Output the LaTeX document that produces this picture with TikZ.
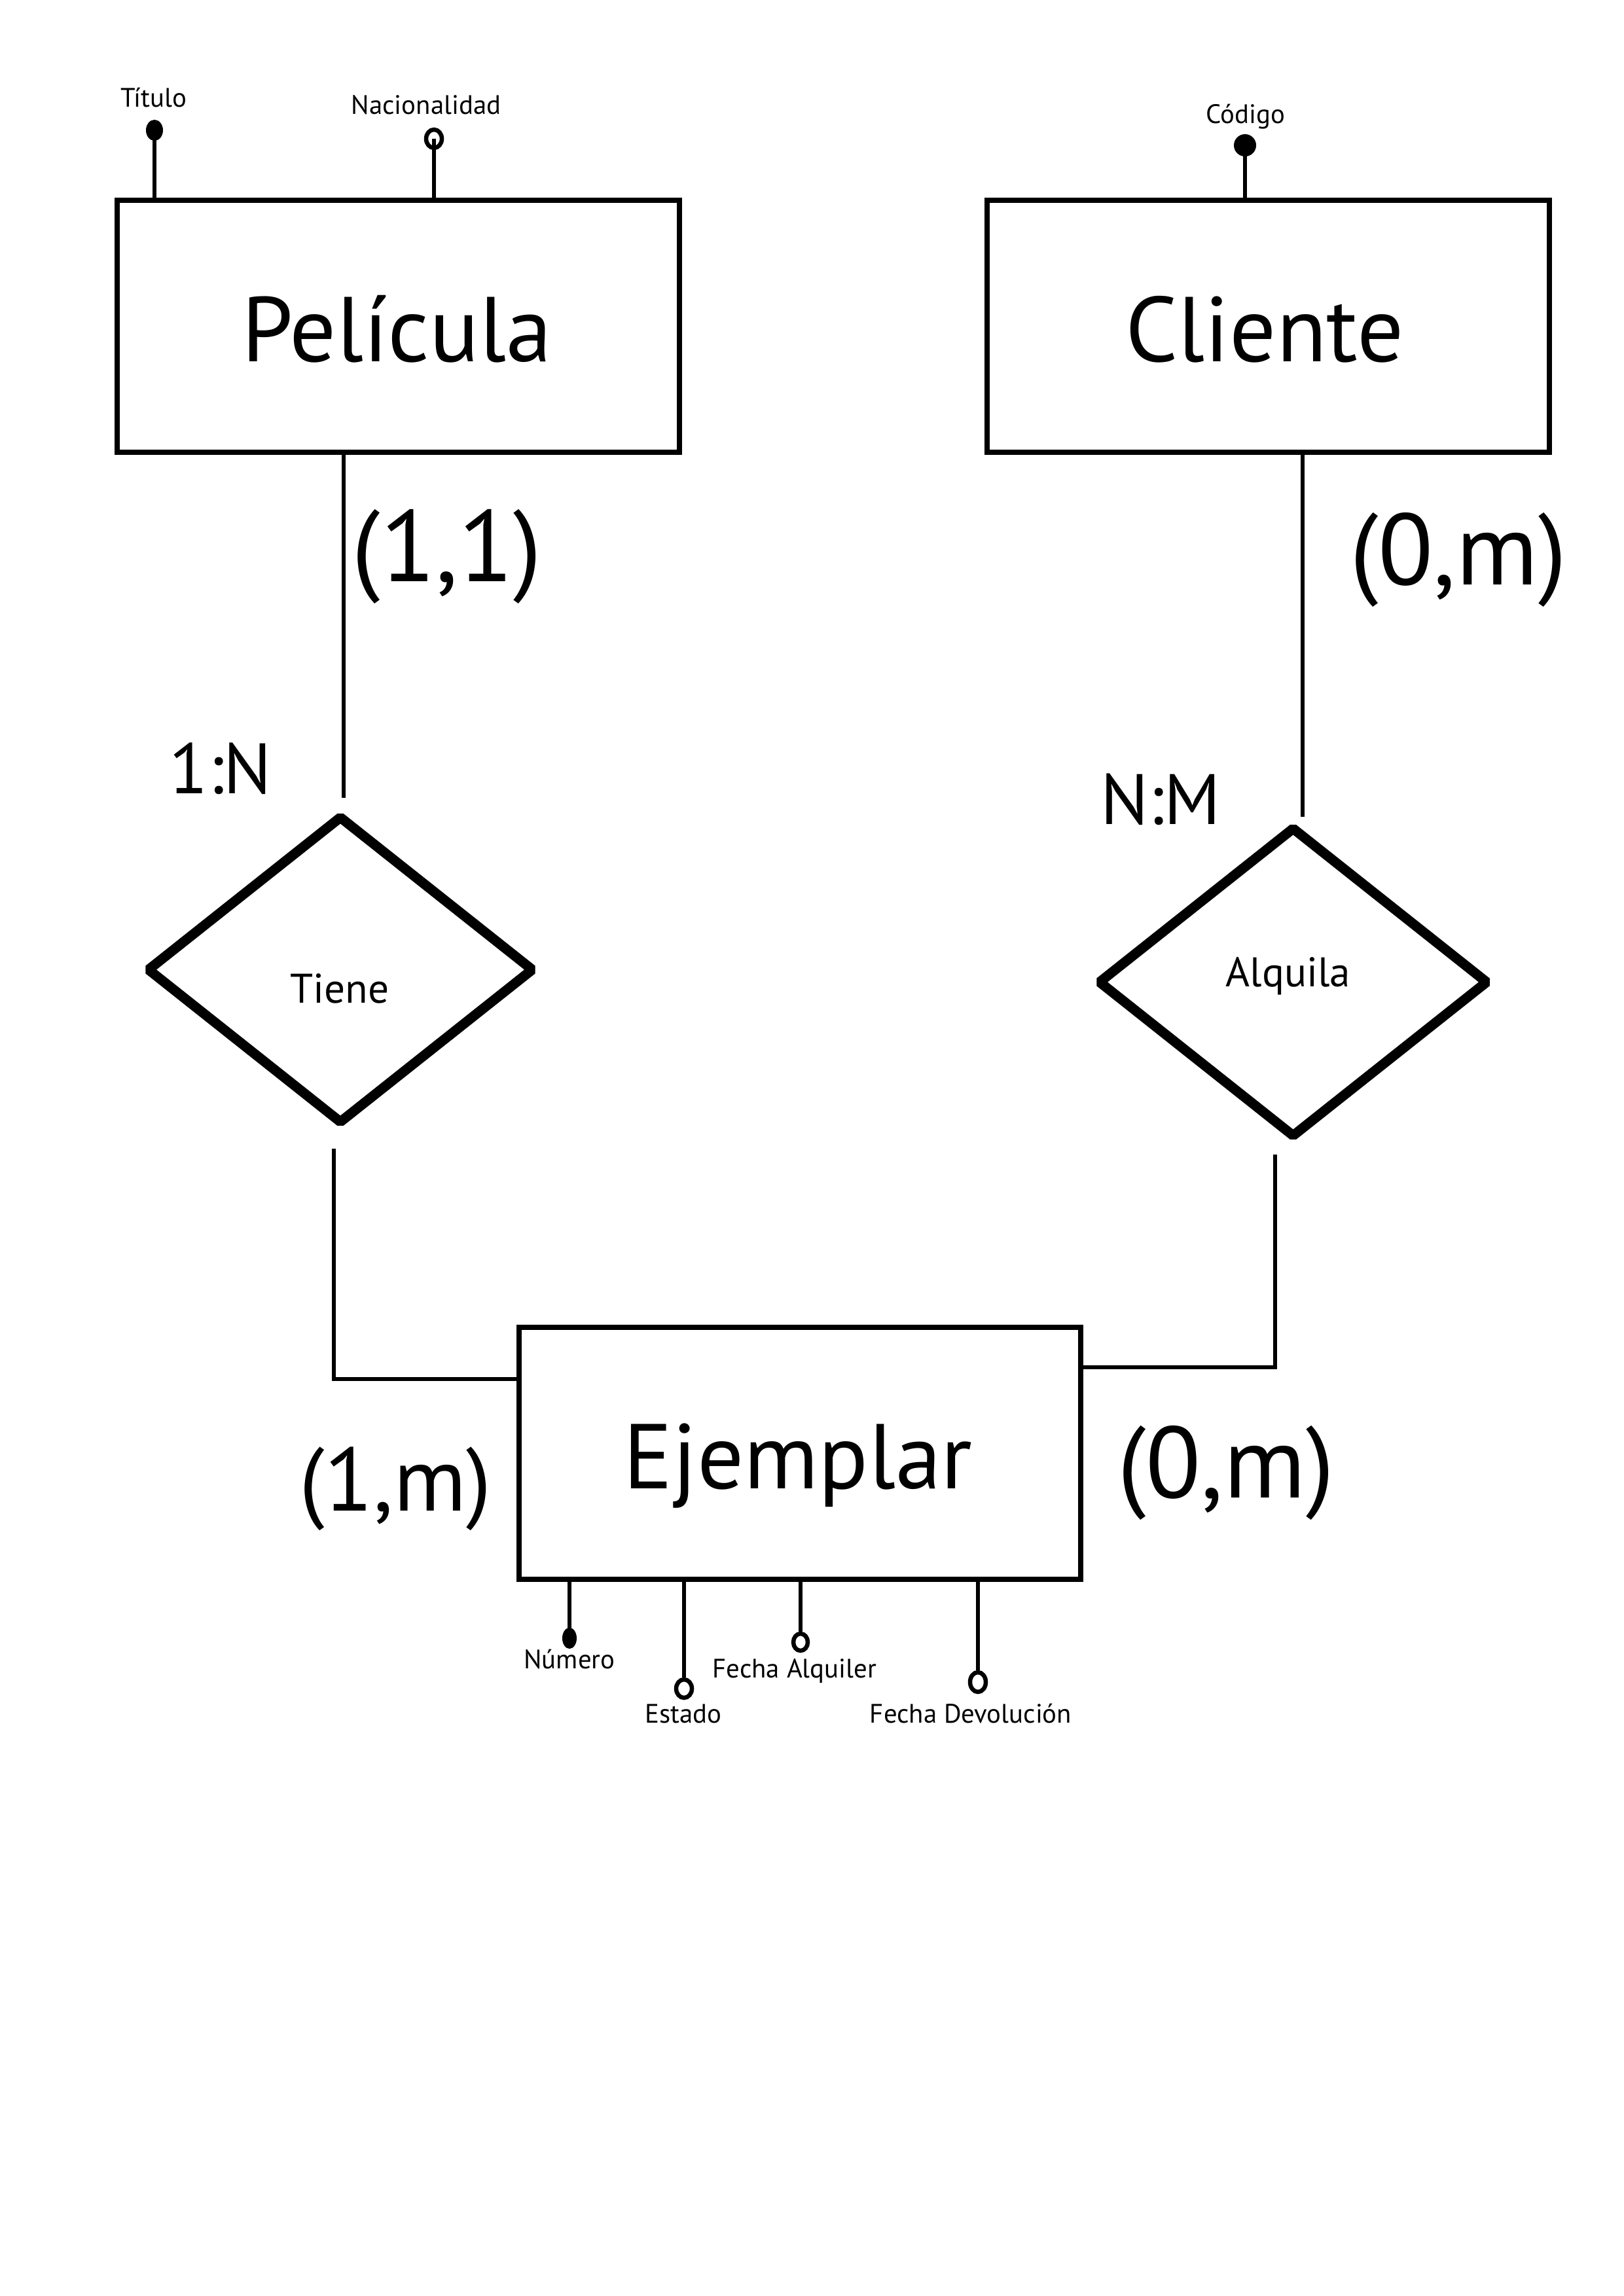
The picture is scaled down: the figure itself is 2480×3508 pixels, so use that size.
\documentclass[tikz,border=0pt]{standalone}
\usepackage{fontspec}
\setmainfont{PT Sans}
\usetikzlibrary{shapes.geometric}
\begin{document}
\begin{tikzpicture}[x=0.01cm,y=-0.01cm,
  entity/.style={draw, rectangle, line width=0.08cm, minimum width=8.58cm, minimum height=3.85cm, inner sep=0pt},
  relation/.style={draw, diamond, line width=0.15cm, inner sep=0pt, aspect=1, line join=bevel},
  conn/.style={line width=0.06cm},
  attrline/.style={line width=0.055cm},
  keydot/.style={fill, ellipse, inner sep=0pt, minimum width=0.26cm, minimum height=0.32cm},
  optdot/.style={draw, ellipse, line width=0.065cm, inner sep=0pt, minimum width=0.24cm, minimum height=0.28cm},
  biglbl/.style={font=\fontsize{40}{48}\selectfont, inner sep=0pt, anchor=base},
  rellbl/.style={font=\fontsize{18}{22}\selectfont, inner sep=0pt, anchor=base},
  typelbl/.style={font=\fontsize{31}{37}\selectfont, inner sep=0pt, anchor=base},
  attrlbl/.style={font=\fontsize{11.6}{14}\selectfont, inner sep=0pt, anchor=base},
  cardlbl/.style={font=\fontsize{44}{50}\selectfont, inner sep=0pt}
]
\useasboundingbox (0,0) rectangle (2480,3508);
\fill[white] (0,0) rectangle (2480,3508);

% entities
\node[entity] (pel) at (608.5,498.5) {};
\node[biglbl] (pelt) at (606,552) {Película};
\node[entity] (cli) at (1937.5,498.5) {};
\node[biglbl] (clit) at (1932,552) {Cliente};
\node[entity] (ej) at (1222,2220.5) {};
\node[biglbl] (ejt) at (1219,2274) {Ejemplar};

% relations
\node[relation, minimum width=5.92cm, minimum height=4.71cm] (tiene) at (520,1481.5) {};
\node[rellbl] (tienet) at (519,1532) {Tiene};
\node[relation, minimum width=5.97cm, minimum height=4.75cm] (alq) at (1975.5,1500.5) {};
\node[rellbl] (alqt) at (1968,1507) {Alquila};

% relation types
\node[typelbl] (t1n) at (337,1212) {1:N};
\node[typelbl] (tnm) at (1773,1259) {N:M};

% cardinalities
\node[cardlbl] (k11) at (683,850) {(1,1)};
\node[cardlbl] (k0m1) at (2228,855) {(0,m)};
\node[cardlbl, font=\fontsize{39}{46}\selectfont] (k1m) at (604,2275) {(1,m)};
\node[cardlbl] (k0m2) at (1873,2250) {(0,m)};

% connectors
\coordinate (c1) at (525,1219);
\draw[conn] (pel.south -| c1) -- (c1);
\coordinate (c2) at (1990,1248);
\draw[conn] (cli.south -| c2) -- (c2);
\coordinate (c3) at (510,1755);
\coordinate (c4) at (510,2107);
\draw[conn] (c3) -- (c4) -- (c4 -| ej.west);
\coordinate (c5) at (1948,1764);
\coordinate (c6) at (1948,2089);
\draw[conn] (c5) -- (c6) -- (c6 -| ej.east);

% attributes of Pelicula
\node[keydot] (mtit) at (236,199) {};
\node[attrlbl] (ltit) at (235,163) {Título};
\draw[attrline] (mtit.center) -- (mtit |- pel.north);
\node[optdot] (mnac) at (663,212) {};
\node[attrlbl] (lnac) at (651,174) {Nacionalidad};
\draw[attrline] (mnac.center) -- (mnac |- pel.north);

% attributes of Cliente
\node[keydot, minimum width=0.34cm, minimum height=0.34cm] (mcod) at (1902,222) {};
\node[attrlbl] (lcod) at (1903,188) {Código};
\draw[attrline] (mcod.center) -- (mcod |- cli.north);

% attributes of Ejemplar
\node[keydot, minimum width=0.22cm] (mnum) at (870,2503) {};
\node[attrlbl] (lnum) at (870,2549) {Número};
\draw[attrline] (ej.south -| mnum) -- (mnum.center);
\node[optdot] (mest) at (1045,2580) {};
\node[attrlbl] (lest) at (1044,2632) {Estado};
\draw[attrline] (ej.south -| mest) -- (mest.north);
\node[optdot, minimum width=0.22cm, minimum height=0.26cm] (mfa) at (1223,2509) {};
\node[attrlbl] (lfa) at (1214,2563) {Fecha Alquiler};
\draw[attrline] (ej.south -| mfa) -- (mfa.north);
\node[optdot, minimum height=0.3cm] (mfd) at (1494,2570) {};
\node[attrlbl] (lfd) at (1483,2632) {Fecha Devolución};
\draw[attrline] (ej.south -| mfd) -- (mfd.north);
\end{tikzpicture}
\end{document}
